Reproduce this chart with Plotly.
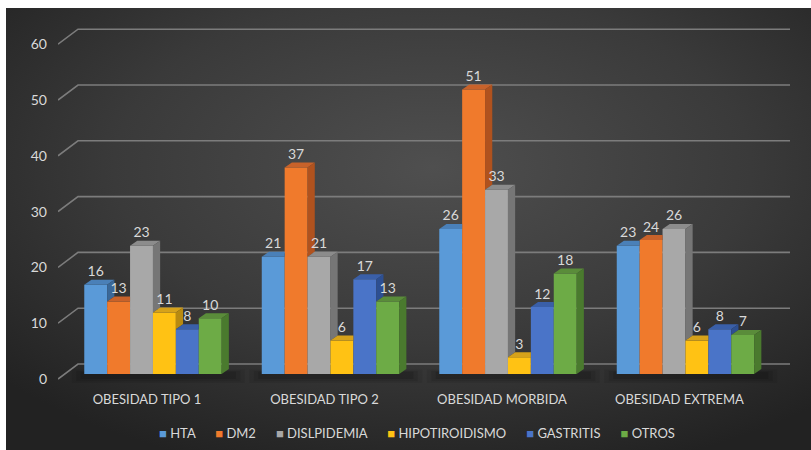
import base64
import plotly.graph_objects as go

# ---------------- data ----------------
categories = ["OBESIDAD TIPO 1", "OBESIDAD TIPO 2", "OBESIDAD MORBIDA", "OBESIDAD EXTREMA"]
series_names = ["HTA", "DM2", "DISLPIDEMIA", "HIPOTIROIDISMO", "GASTRITIS", "OTROS"]
hta = [16, 21, 26, 23]
dm2 = [13, 37, 51, 24]
dislpidemia = [23, 21, 33, 26]
hipotiroidismo = [11, 6, 3, 6]
gastritis = [8, 17, 12, 8]
otros = [10, 13, 18, 7]
y_ticks = [0, 10, 20, 30, 40, 50, 60]

series_values = [hta, dm2, dislpidemia, hipotiroidismo, gastritis, otros]

# ---------------- styles ----------------
front_colors = ["#5a9ad8", "#f07a2c", "#a8a8a8", "#ffc214", "#4a74c8", "#6dab46"]
cap_colors = ["#4a80b8", "#c8622a", "#8c8c8c", "#d6a21a", "#3a5fa8", "#5a8c3a"]
side_colors = ["#3a6898", "#b0521e", "#767676", "#b88a10", "#2d4f92", "#4a7a2e"]
label_color = "#d9d9d9"
FONT = "Lato"

W, H = 811, 450
L, R, T, B = 58, 21, 20, 60
plot_w = W - L - R
plot_h = H - T - B
x_range = [-0.535, 3.589]
y_range = [-2.867, 63.44]
px_x = plot_w / (x_range[1] - x_range[0])
px_y = plot_h / (y_range[1] - y_range[0])
bar_w = 22.9 / px_x
dx = 7.2 / px_x
dy = 5.0 / px_y
front_off = -5.0 / px_y
back_off = 10.0 / px_y
back_left = x_range[0] + 20.0 / px_x

x_pos = list(range(len(categories)))
n = len(series_values)

fig = go.Figure()

# front faces
for i, (name, vals) in enumerate(zip(series_names, series_values)):
    off = -n / 2 * bar_w + i * bar_w
    fig.add_trace(go.Bar(
        x=x_pos, y=vals, width=bar_w, offset=off, name=name,
        marker=dict(color=front_colors[i], line=dict(width=0)),
        showlegend=False, hoverinfo="skip"))

# caps and side faces (3D look)
for i, vals in enumerate(series_values):
    off = -n / 2 * bar_w + i * bar_w
    nxt = series_values[i + 1] if i + 1 < n else [0] * len(vals)
    cx, cy, sx, sy = [], [], [], []
    for j, v in enumerate(vals):
        xl = x_pos[j] + off
        xr = xl + bar_w
        hn = nxt[j]
        if hn > v:
            cx += [xl, xl + dx, xr, xr, None]
            cy += [v, v + dy, v + dy, v, None]
        else:
            cx += [xl, xl + dx, xr + dx, xr, None]
            cy += [v, v + dy, v + dy, v, None]
            sx += [xr, xr, xr + dx, xr + dx, None]
            sy += [hn, v, v + dy, hn + dy, None]
    fig.add_trace(go.Scatter(x=cx, y=cy, mode="lines", fill="toself", fillcolor=cap_colors[i],
                             line=dict(width=0, color=cap_colors[i]), showlegend=False, hoverinfo="skip"))
    if sx:
        fig.add_trace(go.Scatter(x=sx, y=sy, mode="lines", fill="toself", fillcolor=side_colors[i],
                                 line=dict(width=0, color=side_colors[i]), showlegend=False, hoverinfo="skip"))

# data labels
for i, vals in enumerate(series_values):
    off = -n / 2 * bar_w + i * bar_w
    fig.add_trace(go.Scatter(
        x=[x_pos[j] + off + bar_w / 2 for j in range(len(vals))],
        y=[v + dy for v in vals], mode="text", text=[str(v) for v in vals],
        textposition="top center", textfont=dict(family=FONT, size=14, color=label_color),
        cliponaxis=False, showlegend=False, hoverinfo="skip"))

shapes = []
# gridlines on back wall with diagonal from front
for v in y_ticks:
    y0 = v + front_off
    y1 = v + back_off
    shapes.append(dict(type="path", xref="x", yref="y",
                       path=f"M {x_range[0]},{y0} L {back_left},{y1} L {x_range[1]},{y1}",
                       line=dict(color="#7c7c7c", width=1.6), layer="below"))
# soft floor shadows
for j in x_pos:
    gl = j - n / 2 * bar_w
    gr = j + n / 2 * bar_w + dx
    for (ex, y0, y1, a) in [(0.07, -1.6, 0.8, 0.07), (0.045, -1.3, 0.6, 0.09), (0.02, -0.9, 0.4, 0.12)]:
        shapes.append(dict(type="rect", xref="x", yref="y", x0=gl - ex, x1=gr + ex + 0.02,
                           y0=y0, y1=y1, fillcolor=f"rgba(0,0,0,{a})", line=dict(width=0), layer="below"))

# background radial gradient
svg = ('<svg xmlns="http://www.w3.org/2000/svg" width="805" height="442" viewBox="0 0 805 442" '
       'preserveAspectRatio="none"><defs><radialGradient id="g" cx="0.53" cy="0.36" r="0.72">'
       '<stop offset="0" stop-color="#4f4f4f"/><stop offset="0.55" stop-color="#3a3a3a"/>'
       '<stop offset="1" stop-color="#222222"/></radialGradient></defs>'
       '<rect width="805" height="442" fill="url(#g)"/></svg>')
src = "data:image/svg+xml;base64," + base64.b64encode(svg.encode()).decode()
images = [dict(source=src, xref="paper", yref="paper",
               x=(6 - L) / plot_w, y=(H - B - 8) / plot_h,
               sizex=(W - 6) / plot_w, sizey=(H - 8) / plot_h,
               xanchor="left", yanchor="top", sizing="stretch", layer="below")]

# legend (custom line)
sp = "\u00a0"
parts = [f"<span style='color:{c};font-size:13px'>■</span>{sp}{nm}" for c, nm in zip(front_colors, series_names)]
legend_text = (sp * 6).join(parts)
annotations = [dict(text=legend_text, xref="paper", yref="paper",
                    x=(417 - L) / plot_w, y=(H - B - 433) / plot_h,
                    xanchor="center", yanchor="middle", showarrow=False,
                    font=dict(family=FONT, size=13, color=label_color))]

fig.update_layout(
    width=W, height=H, margin=dict(l=L, r=R, t=T, b=B),
    paper_bgcolor="white", plot_bgcolor="rgba(0,0,0,0)",
    barmode="overlay", showlegend=False,
    shapes=shapes, images=images, annotations=annotations,
    xaxis=dict(range=x_range, tickvals=[j - 6 / px_x for j in x_pos], ticktext=categories,
               showgrid=False, zeroline=False, showline=False, ticks="",
               tickfont=dict(family=FONT, size=13, color=label_color)),
    yaxis=dict(range=y_range, tickvals=[v + front_off for v in y_ticks], ticktext=[str(v) for v in y_ticks],
               showgrid=False, zeroline=False, showline=False, ticks="", ticklabelstandoff=10,
               tickfont=dict(family=FONT, size=14, color=label_color)),
)

fig.write_html("out.html")
